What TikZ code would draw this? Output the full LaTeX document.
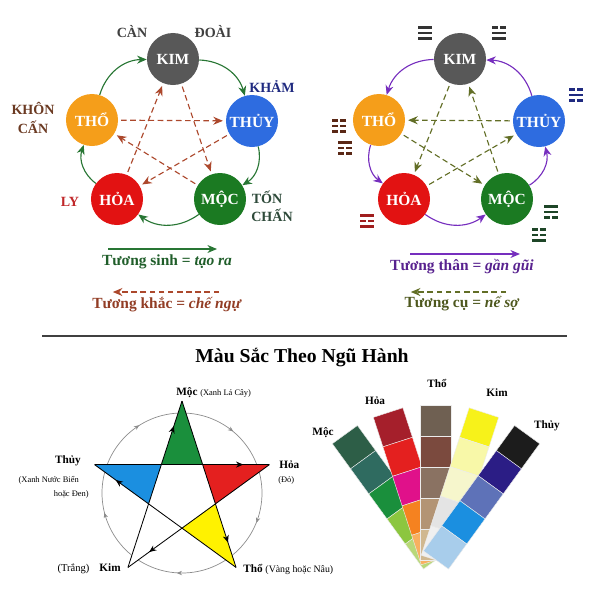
\documentclass[tikz,border=0pt]{standalone}
\usepackage{fontspec}
\setmainfont{Liberation Serif}
\usetikzlibrary{arrows.meta,positioning,decorations.markings,calc}
\definecolor{kimgray}{RGB}{88,88,88}
\definecolor{thuyblue}{RGB}{46,108,224}
\definecolor{thoorange}{RGB}{245,158,26}
\definecolor{hoared}{RGB}{226,18,18}
\definecolor{mocgreen}{RGB}{27,122,34}
\definecolor{sinhgreen}{RGB}{40,118,52}
\definecolor{khacbrown}{RGB}{172,72,44}
\definecolor{thanpurple}{RGB}{118,46,190}
\definecolor{cuolive}{RGB}{98,110,38}
\definecolor{khamnavy}{RGB}{31,42,128}
\definecolor{khonbrown}{RGB}{107,58,34}
\definecolor{gtbrown}{RGB}{90,40,22}
\definecolor{lyred}{RGB}{192,40,42}
\definecolor{gtred}{RGB}{160,30,30}
\definecolor{tongreen}{RGB}{46,74,58}
\definecolor{gtgreen}{RGB}{30,70,40}
% fan swatches, top to bottom
\definecolor{moc1}{HTML}{2D5E47}\definecolor{moc2}{HTML}{2F6B60}\definecolor{moc3}{HTML}{1A8F3C}\definecolor{moc4}{HTML}{8CC63F}\definecolor{moc5}{HTML}{B8D878}
\definecolor{hoa1}{HTML}{A51F2B}\definecolor{hoa2}{HTML}{E4201F}\definecolor{hoa3}{HTML}{E0118A}\definecolor{hoa4}{HTML}{F58220}\definecolor{hoa5}{HTML}{F8B060}
\definecolor{tho1}{HTML}{6F6052}\definecolor{tho2}{HTML}{7B4A3E}\definecolor{tho3}{HTML}{8A7262}\definecolor{tho4}{HTML}{B39474}\definecolor{tho5}{HTML}{D0B890}
\definecolor{kim1}{HTML}{F7F21A}\definecolor{kim2}{HTML}{F8F8A8}\definecolor{kim3}{HTML}{F6F6CC}\definecolor{kim4}{HTML}{E4E4E4}\definecolor{kim5}{HTML}{F0F0F0}
\definecolor{thuy1}{HTML}{1C1C1C}\definecolor{thuy2}{HTML}{2B1D85}\definecolor{thuy3}{HTML}{5E72B8}\definecolor{thuy4}{HTML}{1B8FE0}\definecolor{thuy5}{HTML}{A8CDEB}

% trigram: x, y, colour, top, middle, bottom (1 = solid, 0 = broken)
\newcommand{\trigram}[6]{%
  \foreach \bit [count=\k] in {#4,#5,#6} {
    \pgfmathsetmacro{\yy}{#2+11-5.5*\k}
    \ifnum\bit=1
      \fill[#3] (#1-7,\yy-1.3) rectangle (#1+7,\yy+1.3);
    \else
      \fill[#3] (#1-7,\yy-1.3) rectangle (#1-1.3,\yy+1.3);
      \fill[#3] (#1+1.3,\yy-1.3) rectangle (#1+7,\yy+1.3);
    \fi
  }}

\begin{document}
\begin{tikzpicture}[
    x=0.025cm, y=0.025cm,
    elem/.style={circle, minimum size=1.3cm, inner sep=0pt, text=white, font=\fontsize{11}{12}\selectfont\bfseries},
    gua/.style={font=\fontsize{10}{11}\selectfont\bfseries},
    legend/.style={font=\fontsize{11}{12}\selectfont\bfseries},
    sinh/.style={-{Stealth[length=2.4mm,width=2mm]}, sinhgreen, line width=0.8pt},
    khac/.style={-{Stealth[length=2.4mm,width=2mm]}, khacbrown, line width=0.8pt, dash pattern=on 4pt off 2.5pt, shorten <=2pt, shorten >=2pt},
    than/.style={-{Stealth[length=2.4mm,width=2mm]}, thanpurple, line width=0.8pt},
    cu/.style={-{Stealth[length=2.4mm,width=2mm]}, cuolive, line width=0.8pt, dash pattern=on 4pt off 2.5pt, shorten <=2pt, shorten >=2pt},
    starline/.style={line width=0.6pt, postaction=decorate, decoration={markings, mark=at position 0.85 with {\arrow{Stealth[length=1.8mm,width=1.5mm]}}}},
    plbl/.style={font=\fontsize{8}{9}\selectfont\bfseries},
    psub/.style={font=\fontsize{6}{7}\selectfont},
    fanlbl/.style={font=\fontsize{8}{9}\selectfont\bfseries}
]
    \useasboundingbox (0,0) rectangle (600,-588);

    % left cycle: sinh / khac
    \node[elem, fill=kimgray] (kim) at (173,-59) {KIM};
    \node[elem, fill=thuyblue] (thuy) at (252,-121) {THỦY};
    \node[elem, fill=thoorange] (tho) at (92,-120) {THỔ};
    \node[elem, fill=hoared] (hoa) at (117,-199) {HỎA};
    \node[elem, fill=mocgreen] (moc) at (220,-199) {MỘC};

    \draw[sinh] (kim) to[bend left=36] (thuy);
    \draw[sinh] (thuy) to[bend left=36] (moc);
    \draw[sinh] (moc) to[bend left=36] (hoa);
    \draw[sinh] (hoa) to[bend left=36] (tho);
    \draw[sinh] (tho) to[bend left=36] (kim);

    \draw[khac] (tho) -- (thuy);
    \draw[khac] (thuy) -- (hoa);
    \draw[khac] (hoa) -- (kim);
    \draw[khac] (kim) -- (moc);
    \draw[khac] (moc) -- (tho);

    \node[gua, text=black!75] (can) at (132,-32) {CÀN};
    \node[gua, text=black!75] (doai) at (213,-32) {ĐOÀI};
    \node[gua, text=khamnavy] (kham) at (272,-86) {KHẢM};
    \node[gua, text=khonbrown] (khon) at (33,-108) {KHÔN};
    \node[gua, text=khonbrown] (cans) at (33,-127) {CẤN};
    \node[gua, text=lyred] (ly) at (70,-202) {LY};
    \node[gua, text=tongreen] (ton) at (267,-197) {TỐN};
    \node[gua, text=tongreen] (chan) at (272,-215) {CHẤN};

    \coordinate (sinhA) at (108,-249);
    \coordinate (sinhB) at (217,-249);
    \draw[sinh] (sinhA) -- (sinhB);
    \node[legend, text=sinhgreen!80!black] (sinhtxt) at (167,-262) {Tương sinh = \textit{tạo ra}};
    \coordinate (khacA) at (222,-292);
    \coordinate (khacB) at (110,-292);
    \draw[khac] (khacA) -- (khacB);
    \node[legend, text=khacbrown!85!black] (khactxt) at (167,-305) {Tương khắc = \textit{chế ngự}};

    % right cycle: than / cu
    \node[elem, fill=kimgray] (kim2) at (460,-59) {KIM};
    \node[elem, fill=thuyblue] (thuy2) at (539,-121) {THỦY};
    \node[elem, fill=thoorange] (tho2) at (379,-120) {THỔ};
    \node[elem, fill=hoared] (hoa2) at (404,-199) {HỎA};
    \node[elem, fill=mocgreen] (moc2) at (507,-199) {MỘC};

    \draw[than] (kim2) to[bend right=36] (tho2);
    \draw[than] (tho2) to[bend right=36] (hoa2);
    \draw[than] (hoa2) to[bend right=36] (moc2);
    \draw[than] (moc2) to[bend right=36] (thuy2);
    \draw[than] (thuy2) to[bend right=36] (kim2);

    \draw[cu] (thuy2) -- (tho2);
    \draw[cu] (kim2) -- (hoa2);
    \draw[cu] (moc2) -- (kim2);
    \draw[cu] (hoa2) -- (thuy2);
    \draw[cu] (tho2) -- (moc2);

    \trigram{425}{-33}{black!80}{1}{1}{1}
    \trigram{499}{-33}{black!80}{0}{1}{1}
    \trigram{576}{-95}{khamnavy}{0}{1}{0}
    \trigram{339}{-126}{gtbrown}{0}{0}{0}
    \trigram{345}{-148}{gtbrown}{1}{0}{0}
    \trigram{367}{-221}{gtred}{1}{0}{1}
    \trigram{551}{-212}{gtgreen}{1}{1}{0}
    \trigram{539}{-235}{gtgreen}{0}{0}{1}

    \coordinate (thanA) at (410,-254);
    \coordinate (thanB) at (520,-254);
    \draw[than] (thanA) -- (thanB);
    \node[legend, text=thanpurple!75!black] (thantxt) at (462,-267) {Tương thân = \textit{gần gũi}};
    \coordinate (cuA) at (509,-292);
    \coordinate (cuB) at (408,-292);
    \draw[cu] (cuA) -- (cuB);
    \node[legend, text=cuolive!80!black] (cutxt) at (462,-304) {Tương cụ = \textit{nể sợ}};

    % separator and title
    \coordinate (sepL) at (42,-336);
    \coordinate (sepR) at (567,-336);
    \draw[black!75, line width=0.8pt] (sepL) -- (sepR);
    \node[font=\fontsize{14}{16}\selectfont\bfseries] (title) at (302,-358) {Màu Sắc Theo Ngũ Hành};

    % pentagram
    \coordinate (pc) at (182,-493);
    \coordinate (pmoc) at ($(pc)+(90:92)$);
    \coordinate (phoa) at ($(pc)+(18:92)$);
    \coordinate (ptho) at ($(pc)+(-54:92)$);
    \coordinate (pkim) at ($(pc)+(234:92)$);
    \coordinate (pthuy) at ($(pc)+(162:92)$);
    \coordinate (pi1) at ($(pc)+(54:35.1)$);
    \coordinate (pi2) at ($(pc)+(126:35.1)$);
    \coordinate (pi3) at ($(pc)+(198:35.1)$);
    \coordinate (pi4) at ($(pc)+(270:35.1)$);
    \coordinate (pi5) at ($(pc)+(342:35.1)$);

    \draw[black!45, line width=0.5pt, postaction=decorate, decoration={markings, mark=between positions 0.15 and 0.95 step 0.2 with {\arrow{Stealth[reversed,length=1.3mm,width=1.1mm]}}}] (pc) circle[radius=80];

    \fill[moc3] (pmoc) -- (pi1) -- (pi2) -- cycle;
    \fill[hoa2] (phoa) -- (pi5) -- (pi1) -- cycle;
    \fill[yellow] (ptho) -- (pi4) -- (pi5) -- cycle;
    \fill[thuy4] (pthuy) -- (pi2) -- (pi3) -- cycle;
    \fill[white] (pkim) -- (pi3) -- (pi4) -- cycle;

    \draw[starline] (pmoc) -- (ptho);
    \draw[starline] (ptho) -- (pthuy);
    \draw[starline] (pthuy) -- (phoa);
    \draw[starline] (phoa) -- (pkim);
    \draw[starline] (pkim) -- (pmoc);

    \node[anchor=west, inner sep=0pt] (lmoc) at (176,-393) {\fontsize{8}{9}\selectfont\bfseries Mộc {\fontsize{6}{7}\selectfont\mdseries (Xanh Lá Cây)}};
    \node[plbl, anchor=west, inner sep=0pt] (lhoa) at (279,-465) {Hỏa};
    \node[psub, anchor=west, inner sep=0pt] (lhoasub) at (278,-480) {(Đỏ)};
    \node[plbl, anchor=east, inner sep=0pt] (lthuy) at (81,-461) {Thủy};
    \node[psub, anchor=east, inner sep=0pt] (lthuysub) at (79,-480) {(Xanh Nước Biển};
    \node[psub, anchor=east, inner sep=0pt] (lthuysub2) at (89,-494) {hoặc Đen)};
    \node[anchor=east, inner sep=0pt] (lkim) at (121,-569) {\fontsize{7.5}{8}\selectfont(Trắng)\hspace{2.5mm}\fontsize{8}{9}\selectfont\bfseries Kim};
    \node[anchor=west, inner sep=0pt] (ltho) at (243,-569) {\fontsize{8}{9}\selectfont\bfseries Thổ \fontsize{7}{8}\selectfont\mdseries(Vàng hoặc Nâu)};

    % colour fan
    \foreach \s/\a in {moc/36, hoa/18, tho/0, kim/-18, thuy/-36} {
        \begin{scope}[shift={(436,-560)}, rotate=\a]
            \foreach \i in {1,...,5}
                \fill[\s\i, draw=white!85!gray, line width=0.3pt] (-15.5,{155-31*\i}) rectangle (15.5,{155-31*(\i-1)});
        \end{scope}
    }
    \node[fanlbl] (fmoc) at (323,-433) {Mộc};
    \node[fanlbl] (fhoa) at (375,-401) {Hỏa};
    \node[fanlbl] (ftho) at (437,-383) {Thổ};
    \node[fanlbl] (fkim) at (497,-393) {Kim};
    \node[fanlbl] (fthuy) at (547,-426) {Thủy};
\end{tikzpicture}
\end{document}
